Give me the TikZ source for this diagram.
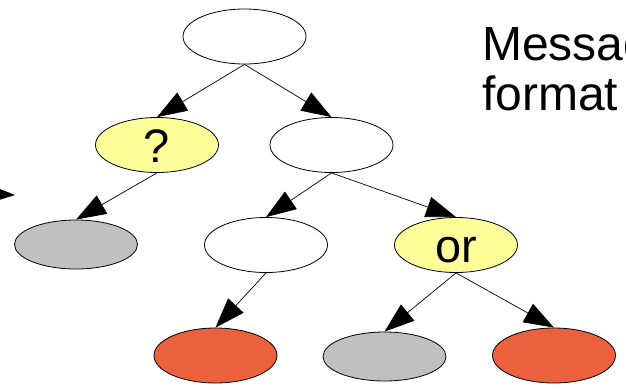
\documentclass[tikz,border=0pt]{standalone}
\usepackage{fontspec}
\setmainfont{Liberation Sans}
\usetikzlibrary{arrows.meta,shapes.geometric}
\definecolor{paleyellow}{HTML}{FFFF99}
\definecolor{leafgray}{HTML}{C0C0C0}
\definecolor{leafred}{HTML}{EB613D}
\begin{document}
\begin{tikzpicture}[x=1pt,y=-1pt,
  treenode/.style={ellipse,draw=black,line width=0.8pt,fill=white,
    minimum width=123pt,minimum height=55pt,inner sep=0pt,
    text height=34pt,text depth=0pt,font=\fontsize{47}{50}\selectfont},
  smallnode/.style={treenode,minimum height=49pt},
  edge/.style={line width=0.7pt,-{Triangle[length=30pt,width=21pt]}}]
\useasboundingbox (0,0) rectangle (626,389);
\clip (0,0) rectangle (626,389);

% tree nodes
\node[treenode] (root) at (244.5,36.5) {};
\node[treenode,fill=paleyellow] (opt) at (157,145) {?};
\node[treenode] (seq) at (331.5,145) {};
\node[smallnode,fill=leafgray] (g1) at (76,244.5) {};
\node[treenode] (mid) at (266,245) {};
\node[treenode,fill=paleyellow] (alt) at (456,245) {or};
\node[treenode,fill=leafred] (r1) at (215.5,355.5) {};
\node[smallnode,fill=leafgray] (g2) at (384.5,356.5) {};
\node[treenode,fill=leafred] (r2) at (554,355.5) {};

% heading (base anchor sits on the last line)
\node[anchor=base west,align=left,inner sep=0pt,
  font=\fontsize{48}{50}\selectfont] (title) at (482,110) {Message\\format};

% edges
\draw[edge] (root.south) -- (opt.north);
\draw[edge] (root.south) -- (seq.north);
\draw[edge] (opt.south) -- (g1.north);
\draw[edge] (seq.south) -- (mid.north);
\draw[edge] (seq.south) -- (alt.north);
\draw[edge] (mid.south) -- (r1.north);
\draw[edge] (alt.south) -- (g2.north);
\draw[edge] (alt.south) -- (r2.north);

% incoming edge from the left
\coordinate (src) at (-120,190);
\coordinate (entry) at (15,195);
\draw[edge] (src) -- (entry);
\end{tikzpicture}
\end{document}
